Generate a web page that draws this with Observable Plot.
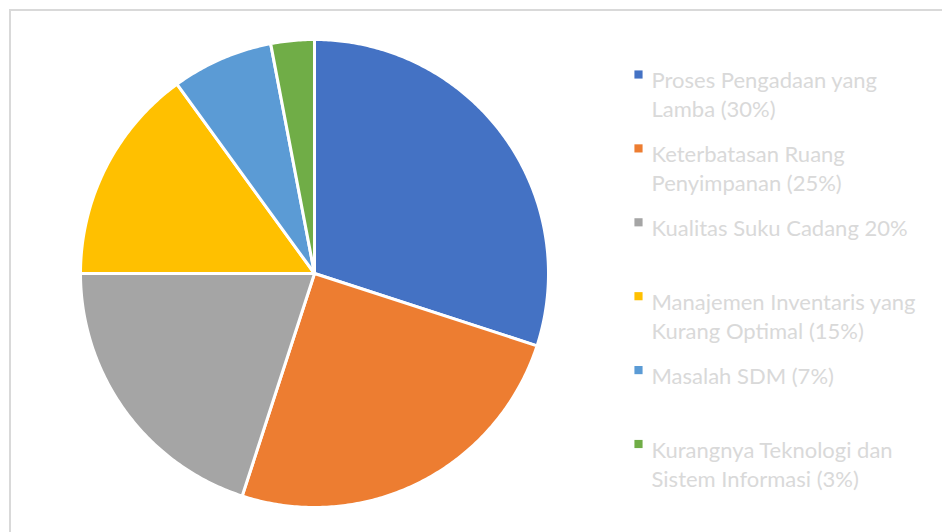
<!DOCTYPE html>
<html>
<head>
<meta charset="utf-8">
<script src="https://cdn.jsdelivr.net/npm/d3@7"></script>
<script src="https://cdn.jsdelivr.net/npm/@observablehq/plot@0.6"></script>
<style>
  html, body { margin: 0; padding: 0; background: #fff; overflow: hidden; }
  #wrap { position: relative; width: 942px; height: 532px; }
  #border { position: absolute; left: 9px; top: 9px; width: 1000px; height: 600px; border: 2px solid #d9d9d9; box-sizing: border-box; }
  #chart { position: absolute; left: 0; top: 0; }
</style>
</head>
<body>
<div id="wrap"><div id="border"></div><div id="chart"></div></div>
<script>
// Data
const categories = [
  "Proses Pengadaan yang Lamba (30%)",
  "Keterbatasan Ruang Penyimpanan (25%)",
  "Kualitas Suku Cadang 20%",
  "Manajemen Inventaris yang Kurang Optimal (15%)",
  "Masalah SDM (7%)",
  "Kurangnya Teknologi dan Sistem Informasi (3%)"
];
const legendLabels = [
  "Proses Pengadaan yang\nLamba (30%)",
  "Keterbatasan Ruang\nPenyimpanan (25%)",
  "Kualitas Suku Cadang 20%",
  "Manajemen Inventaris yang\nKurang Optimal (15%)",
  "Masalah SDM (7%)",
  "Kurangnya Teknologi dan\nSistem Informasi (3%)"
];
const values = [30, 25, 20, 15, 7, 3];
const colors = ["#4472C4", "#ED7D31", "#A5A5A5", "#FFC000", "#5B9BD5", "#70AD47"];

// Layout (pixels)
const W = 942, H = 532;
const cx = 314, cy = 273, R = 234;

// Pie geometry in unit-radius data space
const pie = d3.pie().sort(null).value(d => d.value);
const arcs = pie(categories.map((c, i) => ({name: c, value: values[i]})));
const pts = [];
for (const a of arcs) {
  const n = Math.max(2, Math.ceil((a.endAngle - a.startAngle) / 0.01));
  pts.push({name: a.data.name, x: 0, y: 0});
  for (let k = 0; k <= n; k++) {
    const t = a.startAngle + (a.endAngle - a.startAngle) * k / n;
    pts.push({name: a.data.name, x: Math.sin(t), y: Math.cos(t)});
  }
  pts.push({name: a.data.name, x: 0, y: 0});
}

// Scales so that unit radius maps to R pixels, centered at (cx, cy)
const xDomain = [-cx / R, (W - cx) / R];
const yDomain = [(cy - H) / R, cy / R];

// Legend positions in data space
const legX = (638 - cx) / R;
const legTextX = (651 - cx) / R;
const legend = categories.map((c, i) => ({
  name: c,
  label: legendLabels[i],
  y: (cy - (74 + 73.9 * i)) / R
}));

const plot = Plot.plot({
  width: W,
  height: H,
  margin: 0,
  x: {domain: xDomain, range: [0, W], axis: null},
  y: {domain: yDomain, range: [H, 0], axis: null},
  color: {domain: categories, range: colors},
  style: {background: "transparent", overflow: "visible"},
  marks: [
    Plot.line(pts, {x: "x", y: "y", z: "name", fill: "name", stroke: "white", strokeWidth: 3, strokeLinejoin: "round", curve: "linear"}),
    Plot.dot(legend, {x: () => legX, y: "y", symbol: "square", r: 4.6, fill: "name", stroke: null}),
    Plot.text(legend, {x: () => legTextX, y: "y", text: "label", textAnchor: "start", lineAnchor: "top", dy: -7, fill: "#d9d9d9", fontSize: 22, lineHeight: 1.32, fontFamily: "Lato"})
  ]
});
document.getElementById("chart").appendChild(plot);
</script>
</body>
</html>
